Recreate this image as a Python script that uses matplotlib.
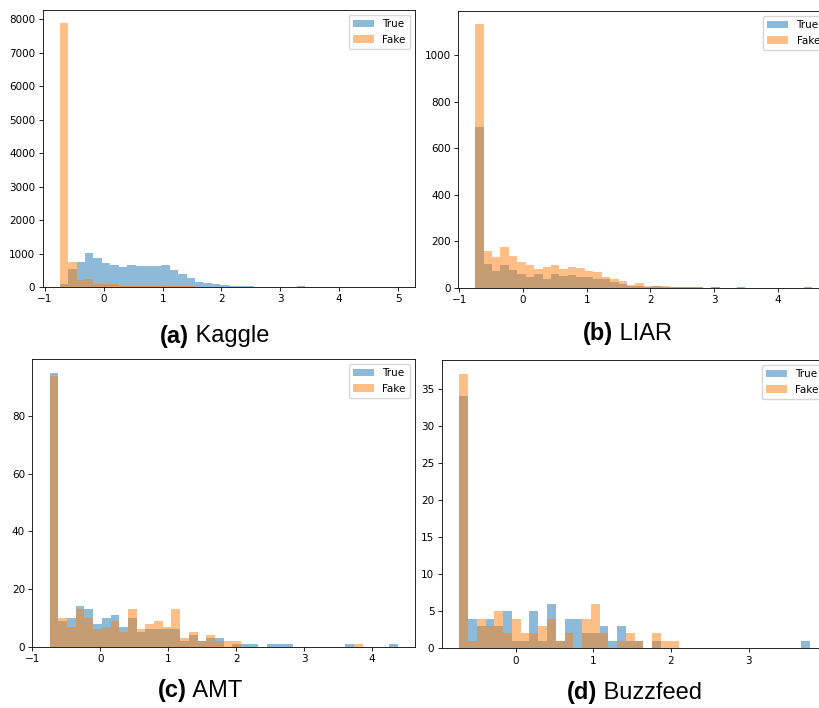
import numpy as np
import matplotlib
matplotlib.use('Agg')
import matplotlib.pyplot as plt

# per-panel data range (bin edges are linspace(lo, hi, 41))
kaggle_range = (-0.75, 5.0)
liar_range = (-0.749, 4.54)
amt_range = (-0.744, 4.378)
buzz_range = (-0.731, 3.795)

kaggle_true = [90, 550, 760, 1030, 880, 727, 646, 596, 657, 636, 636, 636, 657, 505, 374, 263, 162, 120, 90, 60,
               40, 25, 18, 12, 10, 8, 6, 0, 15, 0, 0, 0, 0, 0, 0, 0, 0, 0, 0, 1]
kaggle_fake = [7880, 740, 220, 245, 100, 100, 80, 40, 35, 35, 35, 35, 30, 25, 25, 20, 10, 10, 8, 5,
               3, 2, 1, 1, 0, 0, 0, 0, 0, 0, 0, 0, 0, 0, 0, 0, 0, 0, 0, 0]

liar_true = [689, 101, 71, 96, 76, 61, 47, 57, 37, 57, 49, 53, 44, 44, 36, 37, 26, 16, 9, 9,
             4, 9, 4, 2, 2, 2, 1, 0, 1, 0, 0, 4, 0, 0, 0, 0, 0, 0, 0, 1]
liar_fake = [1133, 159, 133, 176, 137, 109, 97, 79, 87, 99, 79, 89, 84, 73, 67, 47, 36, 29, 11, 19,
             7, 6, 7, 3, 3, 2, 1, 0, 3, 0, 0, 0, 0, 0, 0, 0, 0, 0, 0, 0]

amt_true = [95, 9, 10, 14, 13, 8, 10, 11, 7, 10, 5, 6, 6, 6, 6, 2, 4, 2, 3, 3,
            0, 1, 1, 1, 0, 1, 1, 1, 0, 0, 0, 0, 0, 0, 1, 0, 0, 0, 0, 1]
amt_fake = [94, 10, 7, 13, 10, 6, 7, 9, 5, 13, 6, 8, 9, 7, 13, 3, 5, 2, 4, 2,
            2, 2, 0, 0, 0, 0, 0, 0, 0, 0, 0, 0, 0, 0, 0, 1, 0, 0, 0, 0]

buzz_true = [34, 4, 3, 4, 3, 5, 1, 1, 5, 1, 6, 1, 4, 4, 2, 2, 3, 1, 3, 1,
             1, 0, 1, 0, 0, 0, 0, 0, 0, 0, 0, 0, 0, 0, 0, 0, 0, 0, 0, 1]
buzz_fake = [37, 1, 4, 3, 5, 2, 4, 2, 2, 3, 4, 1, 2, 0, 4, 6, 2, 0, 1, 2,
             1, 0, 2, 1, 1, 0, 0, 0, 0, 0, 0, 0, 0, 0, 0, 0, 0, 0, 0, 0]

tags = ['(a)', '(b)', '(c)', '(d)']
names = ['Kaggle', 'LIAR', 'AMT', 'Buzzfeed']

fig = plt.figure(figsize=(8.2, 7.08), dpi=100)

# axes boxes in pixels: left, top, width, height (right column runs past the edge, as cropped)
boxes = [(42.7, 10, 372.3, 277), (458.3, 11, 371, 276.7),
         (32.3, 359, 382.7, 287.7), (441.7, 360, 386, 288.3)]
panels = [(kaggle_range, kaggle_true, kaggle_fake), (liar_range, liar_true, liar_fake),
          (amt_range, amt_true, amt_fake), (buzz_range, buzz_true, buzz_fake)]
yticks = [np.arange(0, 8001, 1000), np.arange(0, 1001, 200), np.arange(0, 81, 20), np.arange(0, 36, 5)]

W, H = 820, 708
axes = []
for (l, t, w, h), (rng, tr, fk), yt in zip(boxes, panels, yticks):
    ax = fig.add_axes([l / W, 1 - (t + h) / H, w / W, h / H])
    edges = np.linspace(rng[0], rng[1], 41)
    ax.hist(edges[:-1], bins=edges, weights=tr, alpha=0.5, color='tab:blue', label='True')
    ax.hist(edges[:-1], bins=edges, weights=fk, alpha=0.5, color='tab:orange', label='Fake')
    ax.set_yticks(yt)
    ax.tick_params(labelsize=7.5, length=2.8, width=0.6, pad=2.5)
    for s in ax.spines.values():
        s.set_linewidth(0.6)
    ax.legend(loc='upper right', fontsize=7.5)
    axes.append(ax)

axes[0].set_xticks(np.arange(-1, 6))
axes[1].set_xticks(np.arange(-1, 5))
axes[2].set_xticks(np.arange(-1, 5))
axes[3].set_xticks(np.arange(0, 4))

# captions: bold tag followed by normal name
cap_pos = [(160, 336), (583, 334), (158, 691), (567, 693)]
for (x, y), tag, name in zip(cap_pos, tags, names):
    t1 = fig.text(x / W, 1 - y / H, tag, fontsize=17, fontweight='bold',
                  family='Liberation Sans', va='center', ha='left')
    axes[0].annotate(' ' + name, xy=(1, 0.5), xycoords=t1, fontsize=17,
                     family='Liberation Sans', va='center', ha='left', annotation_clip=False)

fig.savefig('out.png', dpi=100)
